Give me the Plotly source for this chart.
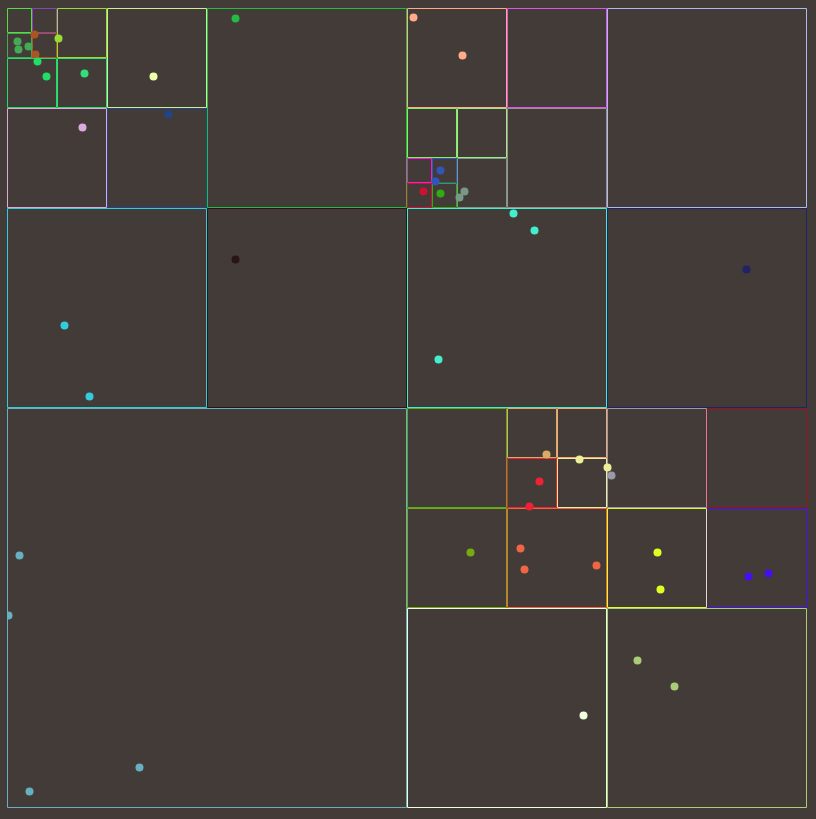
import plotly.graph_objects as go

# Quadtree leaf cells (data coords, y downward)
rect_x0 = [200, 600, 0, 25, 0, 25, 50, 0, 50, 100, 0, 100, 200, 0,
           400, 500, 400, 450, 400, 425, 400, 425, 450, 500, 600, 400,
           0, 400, 500, 550, 500, 550, 400, 500, 600, 700, 600, 700, 400, 600]
rect_y0 = [200, 200, 0, 0, 25, 25, 0, 50, 50, 0, 100, 100, 0, 200,
           0, 0, 100, 100, 150, 150, 175, 175, 150, 100, 0, 200,
           400, 400, 400, 400, 450, 450, 500, 500, 400, 400, 500, 500, 600, 600]
rect_size = [200, 200, 25, 25, 25, 25, 50, 50, 50, 100, 100, 100, 200, 200,
             100, 100, 50, 50, 25, 25, 25, 25, 50, 100, 200, 200,
             400, 100, 50, 50, 50, 50, 100, 100, 100, 100, 100, 100, 200, 200]
rect_color = ["#2a1515", "#222266",
              "#55dd44", "#8844bb", "#44aa55", "#aa5522", "#99dd33", "#22dd66", "#33dd77",
              "#ccee99", "#ddaadd", "#224488", "#22bb44", "#33ccdd",
              "#ffaa88", "#dd55ee", "#88ee66", "#99ee88", "#ee22cc", "#3355bb", "#cc1133",
              "#33aa11", "#779988", "#a08e8e", "#aabbee", "#44eecc",
              "#66b0c0", "#55aa22", "#ddaa66", "#eeaa77", "#ee2233", "#eeee99",
              "#77aa11", "#ee6644", "#9999aa", "#991122", "#ddff22", "#4411ee",
              "#eeffdd", "#aacc77"]

# Points and the leaf they belong to
pt_x = [10, 11, 21, 27, 28, 51, 30, 39, 77, 146, 75, 161, 228, 57, 82, 228,
        406, 455, 433, 428, 416, 433, 457, 452, 506, 527, 431, 739,
        12, 1, 132, 22, 539, 532, 522, 572, 600, 463, 513, 517, 589,
        604, 650, 653, 741, 761, 576, 630, 667]
pt_y = [33, 41, 38, 26, 46, 30, 53, 68, 65, 68, 119, 106, 10, 317, 388, 251,
        9, 47, 162, 173, 183, 185, 183, 189, 205, 222, 351, 261,
        547, 607, 759, 783, 446, 473, 498, 451, 459, 544, 540, 561, 557,
        467, 544, 581, 568, 565, 707, 652, 678]
pt_leaf = [4, 4, 4, 5, 5, 6, 7, 7, 8, 9, 10, 11, 12, 13, 13, 0,
           14, 14, 19, 19, 20, 21, 22, 22, 25, 25, 25, 1,
           26, 26, 26, 26, 28, 30, 30, 31, 31, 32, 33, 33, 33,
           34, 36, 36, 37, 37, 38, 39, 39]

pt_color = [rect_color[i] for i in pt_leaf]
pt_color[9] = "#eeffaa"

fig = go.Figure()
for x0, y0, s, c in zip(rect_x0, rect_y0, rect_size, rect_color):
    x1 = x0 + s - 1
    y1 = y0 + s - 1
    fig.add_trace(go.Scatter(x=[x0, x1, x1, x0, x0],
                             y=[y0, y0, y1, y1, y0],
                             mode="lines", line=dict(color=c, width=1),
                             hoverinfo="skip", showlegend=False))

fig.add_trace(go.Scatter(x=pt_x, y=pt_y, mode="markers",
                         marker=dict(size=8, color=pt_color, line=dict(width=0)),
                         hoverinfo="skip", showlegend=False))

bg = "#433b38"
fig.update_layout(
    width=816, height=819,
    margin=dict(l=7, r=9, t=8, b=11),
    paper_bgcolor=bg, plot_bgcolor=bg,
    xaxis=dict(range=[-0.5, 799.5], visible=False, showgrid=False, zeroline=False, fixedrange=True),
    yaxis=dict(range=[799.5, -0.5], visible=False, showgrid=False, zeroline=False, fixedrange=True),
)
fig.write_html("out.html")
